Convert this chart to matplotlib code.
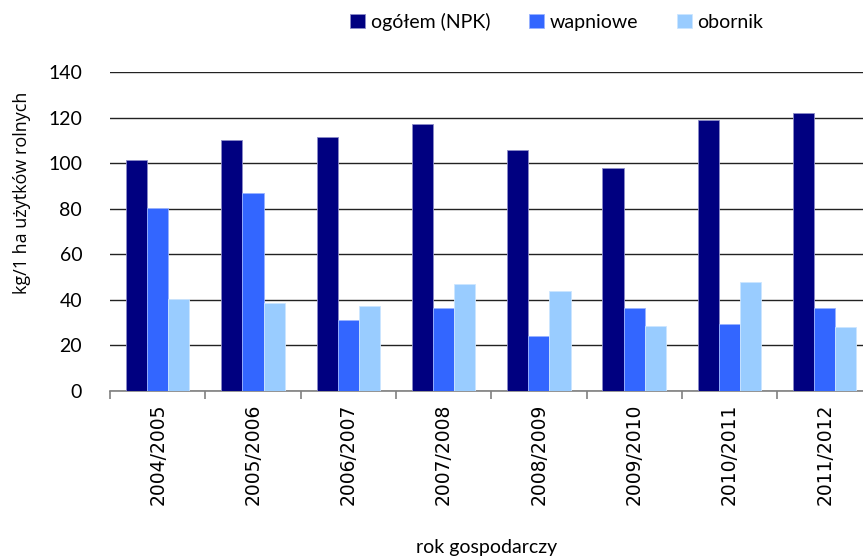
import matplotlib.pyplot as plt
import numpy as np

# Nawożenie w kg na 1 ha użytków rolnych
lata = ['2004/2005', '2005/2006', '2006/2007', '2007/2008',
        '2008/2009', '2009/2010', '2010/2011', '2011/2012']
ogolem_npk = [101.4, 110.3, 111.3, 117.2, 105.7, 97.7, 118.8, 122.0]
wapniowe = [80.4, 86.7, 31.0, 36.6, 24.3, 36.3, 29.4, 36.3]
obornik = [40.2, 38.5, 37.3, 46.8, 44.0, 28.7, 48.0, 28.2]

W, H = 863, 560
fig = plt.figure(figsize=(W / 100, H / 100), dpi=100)
# osie wychodzą poza prawą krawędź rysunku
ax = fig.add_axes([110 / W, (H - 391) / H, 762.4 / W, 319 / H])

x = np.arange(len(lata))
w = 0.222
ax.bar(x - w, ogolem_npk, w, color='#000080', edgecolor='#8c8cc8', linewidth=0.6,
       label='ogółem (NPK)', zorder=3)
ax.bar(x, wapniowe, w, color='#3366ff', edgecolor='#99b3ff', linewidth=0.6,
       label='wapniowe', zorder=3)
ax.bar(x + w, obornik, w, color='#99ccff', edgecolor='#cce6ff', linewidth=0.6,
       label='obornik', zorder=3)

ax.set_xlim(-0.5, len(lata) - 0.5)
ax.set_ylim(0, 140)
ax.set_yticks(range(0, 141, 20))
ax.yaxis.grid(True, color='#222222', linewidth=1.0, zorder=0)
ax.set_axisbelow(True)

for s in ['top', 'right', 'left']:
    ax.spines[s].set_visible(False)
ax.spines['bottom'].set_color('#808080')
ax.spines['bottom'].set_linewidth(1.2)

ax.tick_params(axis='y', length=0, pad=20, labelsize=14)
for t in ax.get_yticklabels():
    t.set_fontfamily('Lato')

ax.set_xticks(x)
ax.set_xticklabels(lata, rotation=90, fontsize=13.5, family='DejaVu Sans')
ax.set_xticks(np.arange(-0.5, len(lata), 1), minor=True)
ax.tick_params(axis='x', which='major', length=0, pad=9)
ax.tick_params(axis='x', which='minor', length=6, color='#808080', width=1.2)

fig.text(22 / W, 1 - 193 / H, 'kg/1 ha użytków rolnych', rotation=90,
         ha='center', va='center', fontsize=13, family='Open Sans')
fig.text(487 / W, 1 - 548 / H, 'rok gospodarczy', ha='center', va='center',
         fontsize=14, family='Lato')

fig.legend(loc='center', bbox_to_anchor=(557 / W, 1 - 22 / H), ncol=3,
           frameon=False, prop={'family': 'Lato', 'size': 14},
           handlelength=0.75, handleheight=0.75, handletextpad=0.3,
           columnspacing=2.0)

fig.savefig('out.png', dpi=100)
